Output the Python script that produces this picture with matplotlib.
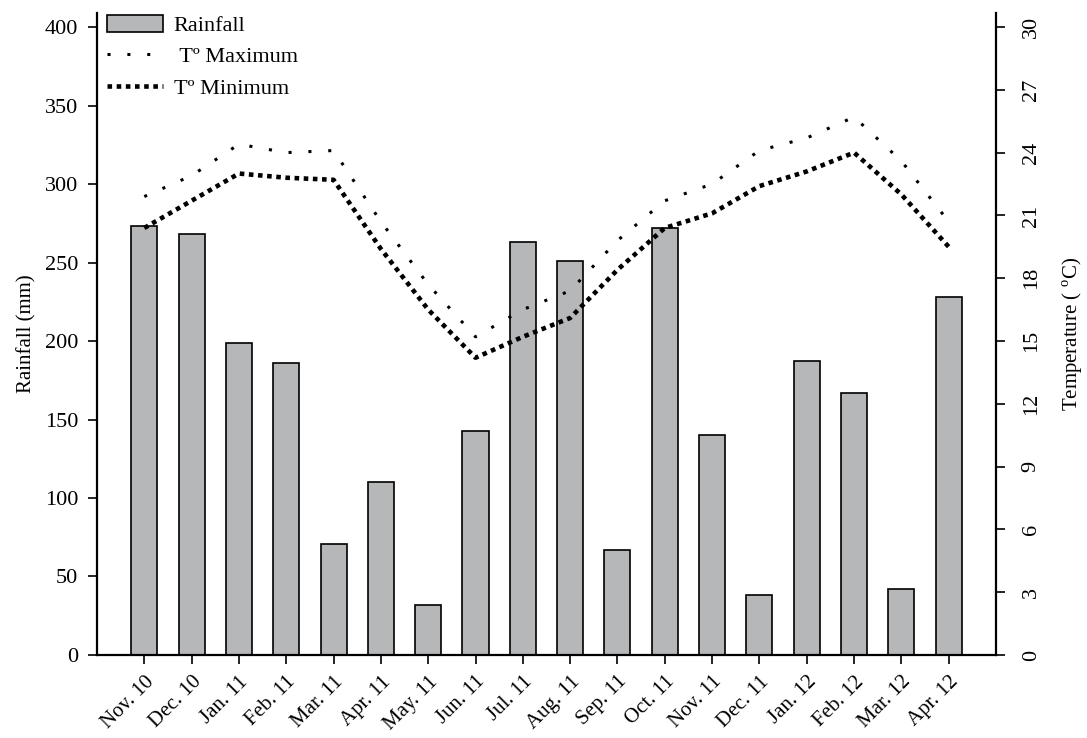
##RAINFALL AND TEMPERATURE CHART##

##IMPORT LIBRARIES

import numpy as np
import matplotlib
matplotlib.use('Agg')
import matplotlib.pyplot as plt
from matplotlib.patches import Patch
from matplotlib.lines import Line2D

##DATA

months = ['Nov. 10', 'Dec. 10', 'Jan. 11', 'Feb. 11', 'Mar. 11', 'Apr. 11',
          'May. 11', 'Jun. 11', 'Jul. 11', 'Aug. 11', 'Sep. 11', 'Oct. 11',
          'Nov. 11', 'Dec. 11', 'Jan. 12', 'Feb. 12', 'Mar. 12', 'Apr. 12']

#monthly rainfall (mm)
rainfall = [273, 268, 199, 186, 71, 110, 32, 143, 263, 251, 67, 272,
            140, 38, 187, 167, 42, 228]

#monthly max / min temperature (C)
t_max = [21.9, 22.9, 24.4, 24.0, 24.1, 20.7, 17.7, 15.2, 16.5, 17.4, 19.8, 21.7,
         22.5, 24.1, 24.7, 25.7, 23.6, 20.7]
t_min = [20.4, 21.7, 23.0, 22.8, 22.7, 19.4, 16.5, 14.2, 15.2, 16.1, 18.4, 20.4,
         21.1, 22.4, 23.1, 24.0, 22.0, 19.5]

rain_ticks = [0, 50, 100, 150, 200, 250, 300, 350, 400]
temp_ticks = [0, 3, 6, 9, 12, 15, 18, 21, 24, 27, 30]

##STYLE

plt.rcParams['font.family'] = ['Liberation Serif', 'DejaVu Serif']
plt.rcParams['mathtext.fontset'] = 'custom'
plt.rcParams['mathtext.rm'] = 'Liberation Serif'
FS = 16      #tick labels / legend
XFS = 15     #month labels
LFS = 15     #axis titles
BAR_GREY = '#b6b7b9'
MAX_STYLE = dict(color='black', linewidth=2.2, linestyle=(0, (1, 5.5)), dash_capstyle='butt')
MIN_STYLE = dict(color='black', linewidth=3.3, linestyle=(0, (1, 1.0)), dash_capstyle='butt')

##PLOT

fig = plt.figure(figsize=(10.87, 7.38), dpi=100)
ax = fig.add_axes([0.0892, 0.1125, 0.9163 - 0.0892, 0.9824 - 0.1125])
x = np.arange(len(months))

ax.bar(x, rainfall, width=0.55, color=BAR_GREY, edgecolor='black', linewidth=1.2, zorder=2)
ax.set_xlim(-1, len(months))
ax.set_ylim(0, 409)
ax.set_yticks(rain_ticks)
ax.set_ylabel('Rainfall (mm)', fontsize=LFS, labelpad=6)
ax.set_xticks(x)
ax.set_xticklabels(months, rotation=45, ha='right', rotation_mode='anchor', fontsize=XFS)
ax.tick_params(axis='both', direction='out', length=6.5, width=1.2)
ax.tick_params(axis='y', pad=7, labelsize=FS)
ax.tick_params(axis='x', pad=6)
ax.spines['top'].set_visible(False)
ax.spines['right'].set_visible(False)
for s in ['left', 'bottom']:
    ax.spines[s].set_linewidth(1.6)

#temperature on the second axis
ax2 = ax.twinx()
ax2.plot(x, t_max, **MAX_STYLE)
ax2.plot(x, t_min, **MIN_STYLE)
ax2.set_ylim(0, 30.67)
ax2.set_yticks(temp_ticks)
ax2.set_yticklabels([str(t) for t in temp_ticks], rotation=90, va='center')
ax2.tick_params(axis='y', direction='out', length=6.5, width=1.2, labelsize=FS, pad=12)
ax2.set_ylabel('Temperature ( $^{\\mathrm{o}}$C)', fontsize=LFS, labelpad=14)
ax2.spines['top'].set_visible(False)
ax2.spines['left'].set_visible(False)
ax2.spines['bottom'].set_visible(False)
ax2.spines['right'].set_linewidth(1.6)

##LEGEND

handles = [
    Patch(facecolor=BAR_GREY, edgecolor='black', linewidth=1.2),
    Line2D([], [], **MAX_STYLE),
    Line2D([], [], **MIN_STYLE),
]
labels = ['Rainfall', ' T\u00ba Maximum', 'T\u00ba Minimum']
ax2.legend(handles, labels, loc='upper left', bbox_to_anchor=(107 / 1087, 1 - 15 / 738),
           bbox_transform=fig.transFigure, frameon=False, fontsize=FS,
           handlelength=2.5, handleheight=0.8, labelspacing=0.45, handletextpad=0.5,
           borderpad=0, borderaxespad=0)

plt.savefig('out.png', dpi=100)
